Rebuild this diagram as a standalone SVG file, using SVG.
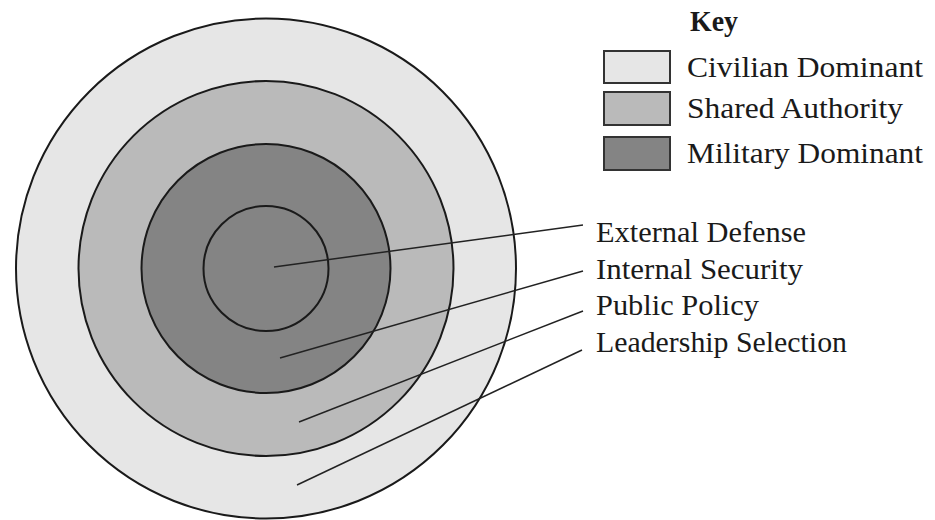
<svg xmlns="http://www.w3.org/2000/svg" width="935" height="520" viewBox="0 0 935 520">
<style>
.t{font-family:"Liberation Serif","Times New Roman",serif;font-size:29px;fill:#1a1a1a}
.b{font-weight:bold}
.ring{stroke:#1a1a1a;stroke-width:2}
.lead{stroke:#222;stroke-width:1.5;fill:none}
.box{stroke:#333;stroke-width:2}
.civ{fill:#e6e6e6}
.sha{fill:#bababa}
.mil{fill:#848484}
</style>
<rect width="935" height="520" fill="#ffffff"/>
<g id="rings">
<circle id="leadership-selection" class="ring civ" cx="266" cy="268.5" r="250" stroke-width="3"/>
<circle id="public-policy" class="ring sha" cx="266" cy="268.5" r="187.5"/>
<circle id="internal-security" class="ring mil" cx="266" cy="268.5" r="124.5"/>
<circle id="external-defense" class="ring mil" cx="266" cy="268.5" r="62.5"/>
</g>
<g id="connectors">
<line class="lead" x1="274" y1="267" x2="583" y2="225"/>
<line class="lead" x1="280" y1="358" x2="583" y2="271"/>
<line class="lead" x1="299" y1="422" x2="583" y2="311"/>
<line class="lead" x1="297" y1="485" x2="582" y2="350"/>
</g>
<g id="labels">
<text class="t" x="596" y="242" textLength="210" lengthAdjust="spacingAndGlyphs">External Defense</text>
<text class="t" x="596" y="279" textLength="207" lengthAdjust="spacingAndGlyphs">Internal Security</text>
<text class="t" x="596" y="315" textLength="163" lengthAdjust="spacingAndGlyphs">Public Policy</text>
<text class="t" x="596" y="352" textLength="251" lengthAdjust="spacingAndGlyphs">Leadership Selection</text>
</g>
<g id="key">
<text class="t b" x="690" y="31" textLength="48" lengthAdjust="spacingAndGlyphs">Key</text>
<g id="key-civilian">
<rect class="box civ" x="604" y="51" width="66" height="32"/>
<text class="t" x="687" y="77" textLength="236" lengthAdjust="spacingAndGlyphs">Civilian Dominant</text>
</g>
<g id="key-shared">
<rect class="box sha" x="604" y="92" width="66" height="33"/>
<text class="t" x="687" y="118" textLength="216" lengthAdjust="spacingAndGlyphs">Shared Authority</text>
</g>
<g id="key-military">
<rect class="box mil" x="604" y="137" width="66" height="33"/>
<text class="t" x="687" y="163" textLength="236" lengthAdjust="spacingAndGlyphs">Military Dominant</text>
</g>
</g>
</svg>
